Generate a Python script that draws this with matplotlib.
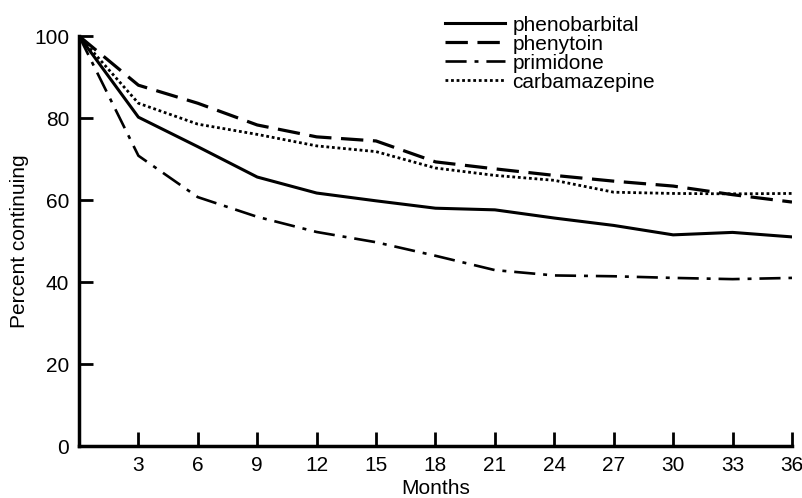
import matplotlib.pyplot as plt

plt.rcParams['font.family'] = ['Liberation Sans', 'DejaVu Sans']

months = [0, 3, 6, 9, 12, 15, 18, 21, 24, 27, 30, 33, 36]
phenobarbital = [100, 80.2, 73, 65.6, 61.7, 59.8, 58, 57.6, 55.6, 53.8, 51.5, 52.1, 51]
phenytoin = [100, 88, 83.6, 78.3, 75.4, 74.4, 69.3, 67.6, 66, 64.6, 63.4, 61.3, 59.5]
primidone = [100, 70.8, 60.7, 55.9, 52.2, 49.7, 46.4, 42.9, 41.6, 41.4, 41, 40.7, 41]
carbamazepine = [100, 83.6, 78.5, 76, 73.2, 71.8, 67.8, 66, 64.8, 61.9, 61.6, 61.5, 61.6]

xticks = [3, 6, 9, 12, 15, 18, 21, 24, 27, 30, 33, 36]
yticks = [0, 20, 40, 60, 80, 100]

fig = plt.figure(figsize=(8.02, 4.98), dpi=100)
ax = fig.add_axes([0.0985, 0.1044, 0.889, 0.8233])

ax.plot(months, phenobarbital, color='black', lw=2.2, label='phenobarbital')
ax.plot(months, phenytoin, color='black', lw=2.3, dashes=(7, 3), label='phenytoin')
ax.plot(months, primidone, color='black', lw=1.9, dashes=(8, 3, 1.5, 3), label='primidone')
ax.plot(months, carbamazepine, color='black', lw=2, dashes=(1, 1), label='carbamazepine')

ax.set_xlim(0, 36)
ax.set_ylim(0, 100)
ax.set_xticks(xticks)
ax.set_yticks(yticks)
ax.tick_params(direction='in', length=10, width=2, labelsize=15, pad=7)
for s in ['top', 'right']:
    ax.spines[s].set_visible(False)
for s in ['left', 'bottom']:
    ax.spines[s].set_linewidth(2.5)

ax.set_xlabel('Months', fontsize=15, labelpad=3)
ax.set_ylabel('Percent continuing', fontsize=15, labelpad=4)

ax.legend(loc='upper left', bbox_to_anchor=(0.499, 1.075), frameon=False, fontsize=15,
          handlelength=2.85, handletextpad=0.38, labelspacing=0.0, borderpad=0)

fig.savefig('out.png', dpi=100)
